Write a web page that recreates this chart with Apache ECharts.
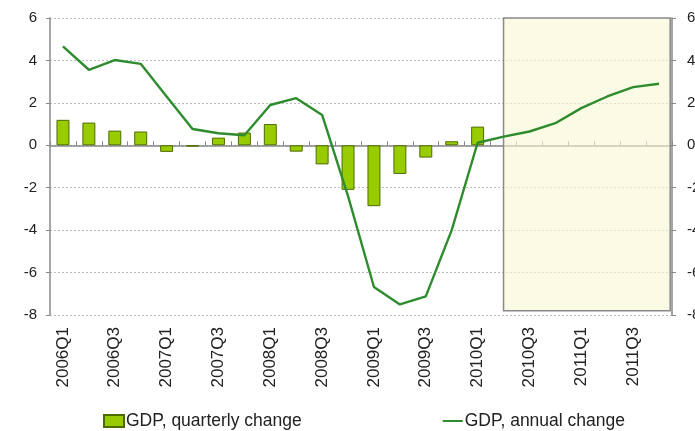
<!DOCTYPE html>
<html lang="en">
<head>
    <meta charset="UTF-8">
    <title>GDP change</title>
    <script src="https://cdn.jsdelivr.net/npm/echarts@6/dist/echarts.min.js"></script>
    <style>
        body { margin: 0; background: #fff; }
    </style>
</head>
<body>
    <div id="main" style="width: 695px;height:431px;"></div>
    <script type="text/javascript">
        // quarters 2006Q1 .. 2011Q4
        var quarters = ['2006Q1', '2006Q2', '2006Q3', '2006Q4', '2007Q1', '2007Q2', '2007Q3', '2007Q4',
            '2008Q1', '2008Q2', '2008Q3', '2008Q4', '2009Q1', '2009Q2', '2009Q3', '2009Q4',
            '2010Q1', '2010Q2', '2010Q3', '2010Q4', '2011Q1', '2011Q2', '2011Q3', '2011Q4'];

        // GDP, quarterly change (only up to 2010Q1)
        var quarterlyChange = [1.2, 1.07, 0.69, 0.65, -0.31, -0.06, 0.36, 0.6,
            1.0, -0.3, -0.9, -2.1, -2.87, -1.35, -0.58, 0.19, 0.88,
            null, null, null, null, null, null, null];

        // GDP, annual change (forecast from 2010Q2)
        var annualChange = [4.66, 3.56, 4.02, 3.84, 2.3, 0.77, 0.57, 0.47,
            1.9, 2.22, 1.43, -2.4, -6.68, -7.5, -7.12, -4.0, 0.12,
            0.41, 0.65, 1.04, 1.75, 2.3, 2.74, 2.9];

        // forecast box, in quarter units (start at middle of 2010Q2)
        var forecastFrom = 17.5;
        var forecastTo = 23.93;

        var chartDom = document.getElementById('main');
        var myChart = echarts.init(chartDom);
        var font = '"Liberation Sans", Arial, sans-serif';
        var option;

        option = {
            animation: false,
            textStyle: { fontFamily: font },
            grid: { left: 50, right: 23, top: 18, bottom: 116, outerBoundsMode: 'none', containLabel: false },
            legend: {
                top: 407,
                left: 98,
                itemGap: 140,
                itemWidth: 20,
                itemHeight: 12,
                textStyle: { fontSize: 17.5, color: '#222', fontFamily: font, padding: [0, 0, 0, -3] },
                data: [
                    { name: 'GDP, quarterly change', icon: 'rect' },
                    { name: 'GDP, annual change', itemStyle: { opacity: 0 } }
                ]
            },
            xAxis: [{
                type: 'category',
                data: quarters,
                axisLine: { show: false },
                axisTick: { show: false },
                axisLabel: {
                    interval: 1,
                    rotate: 90,
                    margin: 12,
                    fontSize: 17,
                    color: '#222'
                }
            }, {
                type: 'category',
                data: quarters,
                axisLine: { onZero: true, lineStyle: { color: '#888', width: 1.5 } },
                axisTick: { show: true, interval: 0, inside: false, length: 4, lineStyle: { color: '#888' } },
                axisLabel: { show: false }
            }, {
                type: 'value',
                min: 0,
                max: 24,
                show: false
            }],
            yAxis: [{
                type: 'value',
                min: -8,
                max: 6,
                interval: 2,
                axisLine: { show: true, lineStyle: { color: '#888', width: 1.5 } },
                axisTick: { show: true, length: 4, lineStyle: { color: '#888' } },
                axisLabel: { fontSize: 15, color: '#222', margin: 13 },
                splitLine: { lineStyle: { color: '#bbb', type: [2, 2] } }
            }, {
                type: 'value',
                position: 'right',
                min: -8,
                max: 6,
                interval: 2,
                axisLine: { show: true, lineStyle: { color: '#888', width: 1.5 } },
                axisTick: { show: true, length: 4, lineStyle: { color: '#888' } },
                axisLabel: { fontSize: 15, color: '#222', margin: 15 },
                splitLine: { show: false }
            }],
            series: [{
                name: 'forecast',
                type: 'line',
                xAxisIndex: 2,
                yAxisIndex: 0,
                data: [],
                silent: true,
                z: 1,
                markArea: {
                    silent: true,
                    itemStyle: {
                        color: 'rgba(248,248,212,0.6)',
                        borderColor: '#8a8a8a',
                        borderWidth: 1.5
                    },
                    data: [[{ xAxis: forecastFrom, yAxis: 6 }, { xAxis: forecastTo, yAxis: -7.8 }]]
                }
            }, {
                name: 'GDP, quarterly change',
                type: 'bar',
                data: quarterlyChange,
                barWidth: '50%',
                z: 3,
                itemStyle: {
                    color: '#99cc00',
                    borderColor: '#4d6b00',
                    borderWidth: 1
                }
            }, {
                name: 'GDP, annual change',
                type: 'line',
                data: annualChange,
                symbol: 'none',
                z: 4,
                lineStyle: { color: '#2e8b2e', width: 2.4 },
                itemStyle: { color: '#2e8b2e' }
            }]
        };

        option && myChart.setOption(option);
    </script>
</body>
</html>
